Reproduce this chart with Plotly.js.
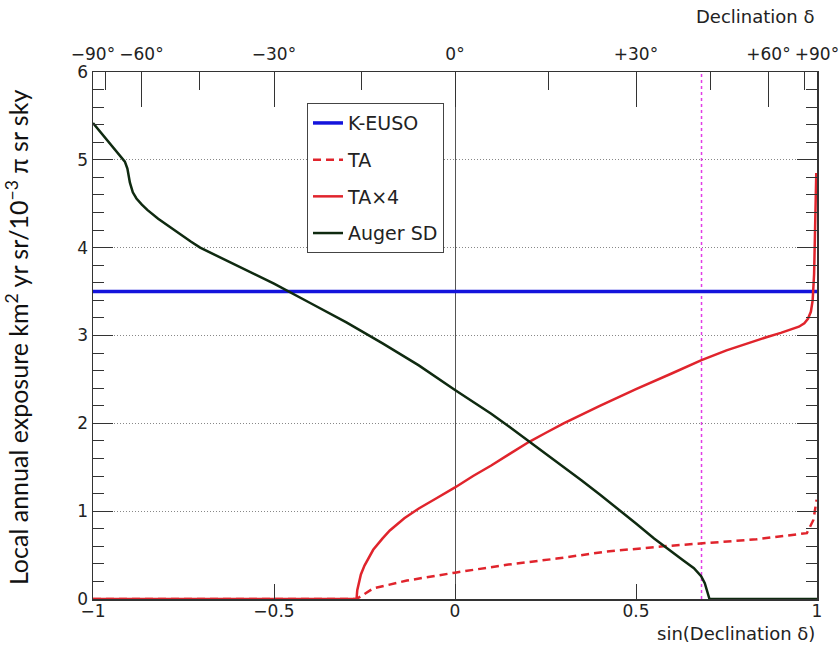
<!DOCTYPE html>
<html>
<head>
<meta charset="utf-8">
<script src="https://cdn.plot.ly/plotly-3.0.1.min.js"></script>
<style>html,body{margin:0;padding:0;background:#fff;}#chart{width:840px;height:651px;}</style>
</head>
<body>
<div id="chart"></div>
<script>
// ---- data (x = sin(declination)) ----
const seriesNames = ['K-EUSO', 'TA', 'TA×4', 'Auger SD'];

const keusoX = [-1, 1];
const keusoY = [3.5, 3.5];

const taX = [-1, -0.272, -0.226, -0.133, 0, 0.143, 0.281, 0.419, 0.575, 0.681, 0.833, 0.972, 0.99, 0.999];
const taY = [0, 0, 0.12, 0.21, 0.30, 0.39, 0.46, 0.54, 0.60, 0.63, 0.68, 0.75, 0.90, 1.13];

const ta4X = [-1, -0.272, -0.27, -0.265, -0.26, -0.25, -0.24, -0.226, -0.2, -0.18, -0.14, -0.1, -0.05, 0, 0.05, 0.1, 0.15, 0.205, 0.25, 0.3, 0.4, 0.5, 0.6, 0.681, 0.75, 0.8, 0.86, 0.9, 0.93, 0.95, 0.965, 0.975, 0.983, 0.988, 0.992, 0.995, 0.998];
const ta4Y = [0, 0, 0.10, 0.20, 0.28, 0.38, 0.46, 0.56, 0.69, 0.78, 0.92, 1.03, 1.15, 1.27, 1.40, 1.52, 1.65, 1.79, 1.89, 2.0, 2.2, 2.39, 2.57, 2.72, 2.83, 2.90, 2.98, 3.03, 3.07, 3.10, 3.14, 3.19, 3.27, 3.40, 3.70, 4.20, 4.85];

const augerX = [-1, -0.95, -0.912, -0.905, -0.898, -0.89, -0.88, -0.865, -0.85, -0.82, -0.79, -0.76, -0.73, -0.704, -0.6, -0.5, -0.4, -0.3, -0.2, -0.1, 0, 0.05, 0.1, 0.15, 0.2, 0.25, 0.3, 0.35, 0.4, 0.45, 0.5, 0.55, 0.575, 0.6, 0.63, 0.66, 0.68, 0.69, 0.698, 0.703, 0.75, 0.85, 1];
const augerY = [5.42, 5.17, 4.98, 4.90, 4.74, 4.63, 4.56, 4.49, 4.43, 4.33, 4.24, 4.15, 4.07, 4.0, 3.79, 3.59, 3.37, 3.15, 2.91, 2.66, 2.38, 2.25, 2.11, 1.96, 1.81, 1.66, 1.51, 1.35, 1.19, 1.03, 0.86, 0.69, 0.61, 0.53, 0.44, 0.35, 0.26, 0.18, 0.08, 0, 0, 0, 0];

const markerSinDecl = 0.681;   // magenta dotted vertical line

// axis tick labels
const xTickVals = [-1, -0.5, 0, 0.5, 1];
const xTickText = ['−1', '−0.5', '0', '0.5', '1'];
const declMajorDeg = [-90, -60, -30, 0, 30, 60, 90];
const declMajorText = ['−90°', '−60°', '−30°', '0°', '+30°', '+60°', '+90°'];
const declMinorDeg = [-75, -45, -15, 15, 45, 75];

const s = d => Math.sin(d * Math.PI / 180);

const tickFont = {family: 'DejaVu Sans, sans-serif', size: 17, color: '#222'};
const titleFont = {family: 'DejaVu Sans, sans-serif', size: 18, color: '#222'};
const frameColor = '#333';

const traces = [
  {x: keusoX, y: keusoY, name: seriesNames[0], mode: 'lines', legendgroup: 'a',
   line: {color: '#1414dc', width: 3.5}},
  {x: taX, y: taY, name: seriesNames[1], mode: 'lines', legendgroup: 'b',
   line: {color: '#e0242c', width: 2.5, dash: '8px,5px'}},
  {x: ta4X, y: ta4Y, name: seriesNames[2], mode: 'lines', legendgroup: 'c',
   line: {color: '#e0242c', width: 2.5}},
  {x: augerX, y: augerY, name: seriesNames[3], mode: 'lines', legendgroup: 'd',
   line: {color: '#0f2a10', width: 2.5}},
  // empty carriers so that the thin tick-only subplots (top declination axis, bottom sin axis) are drawn
  {x: [], y: [], xaxis: 'x2', yaxis: 'y2', mode: 'lines', showlegend: false, hoverinfo: 'skip'},
  {x: [], y: [], xaxis: 'x3', yaxis: 'y3', mode: 'lines', showlegend: false, hoverinfo: 'skip'}
];

const layout = {
  width: 840, height: 651,
  margin: {l: 93, r: 23, t: 72, b: 52},
  paper_bgcolor: '#fff', plot_bgcolor: 'rgba(0,0,0,0)',
  showlegend: true,
  legend: {
    x: 0.2956, y: 0.941, xanchor: 'left', yanchor: 'top',
    bgcolor: '#fff', bordercolor: '#444', borderwidth: 1,
    font: {family: 'DejaVu Sans, sans-serif', size: 19, color: '#222'},
    traceorder: 'grouped', tracegroupgap: 9, itemwidth: 30
  },
  xaxis: {
    range: [-1, 1], showticklabels: false, ticks: '',
    showline: true, linecolor: frameColor, linewidth: 1.5, mirror: true,
    showgrid: false, zeroline: true, zerolinecolor: '#555', zerolinewidth: 1,
    fixedrange: true
  },
  yaxis: {
    range: [0, 6], dtick: 1, tick0: 0, domain: [0, 1],
    ticks: 'inside', ticklen: 20, tickwidth: 1, tickcolor: frameColor,
    minor: {dtick: 0.2, tick0: 0, ticks: 'inside', ticklen: 11, tickwidth: 1, tickcolor: frameColor, showgrid: false},
    showline: true, linecolor: frameColor, linewidth: 1.5, mirror: 'ticks',
    showgrid: true, gridcolor: '#888', gridwidth: 1, griddash: '1px,2px',
    zeroline: false, tickfont: tickFont, fixedrange: true
  },
  xaxis2: {
    anchor: 'y2', side: 'top', range: [-1, 1], domain: [0, 1],
    tickmode: 'array', tickvals: declMajorDeg.map(s), ticktext: declMajorText,
    ticks: 'inside', ticklen: 35, tickwidth: 1, tickcolor: frameColor,
    minor: {tickmode: 'array', tickvals: declMinorDeg.map(s), ticks: 'inside', ticklen: 18, tickwidth: 1, tickcolor: frameColor, showgrid: false},
    ticklabelstandoff: 8,
    showline: false, showgrid: false, zeroline: false,
    tickfont: tickFont, fixedrange: true
  },
  yaxis2: {
    anchor: 'x2', domain: [0.999, 1], range: [0, 1], visible: false, fixedrange: true
  },
  xaxis3: {
    anchor: 'y3', side: 'bottom', range: [-1, 1], domain: [0, 1],
    tickmode: 'array', tickvals: xTickVals, ticktext: xTickText,
    ticks: 'inside', ticklen: 15, tickcolor: frameColor,
    showline: false, showgrid: false, zeroline: false,
    tickfont: tickFont, fixedrange: true
  },
  yaxis3: {
    anchor: 'x3', domain: [0, 0.001], range: [0, 1], visible: false, fixedrange: true
  },
  shapes: [
    {type: 'line', xref: 'x', yref: 'y', x0: markerSinDecl, x1: markerSinDecl, y0: 0, y1: 6,
     line: {color: '#e23ce6', width: 1.5, dash: '3px,3px'}, layer: 'below'}
  ],
  annotations: [
    {text: 'sin(Declination δ)', xref: 'paper', yref: 'paper', x: 1.0, y: -0.065,
     xanchor: 'right', yanchor: 'middle', showarrow: false, font: titleFont},
    {text: 'Declination δ', xref: 'paper', yref: 'paper', x: 1.0, y: 1.106,
     xanchor: 'right', yanchor: 'middle', showarrow: false, font: titleFont},
    {text: 'Local annual exposure km<sup>2</sup> yr sr/10<sup>−3</sup> π sr sky', xref: 'paper', yref: 'paper',
     x: -0.105, y: 0.497, xanchor: 'center', yanchor: 'middle', textangle: -90, showarrow: false,
     font: {family: 'Lato, Open Sans, sans-serif', size: 25, color: '#111'}}
  ]
};

Plotly.newPlot('chart', traces, layout, {displayModeBar: false, staticPlot: true});
</script>
</body>
</html>
